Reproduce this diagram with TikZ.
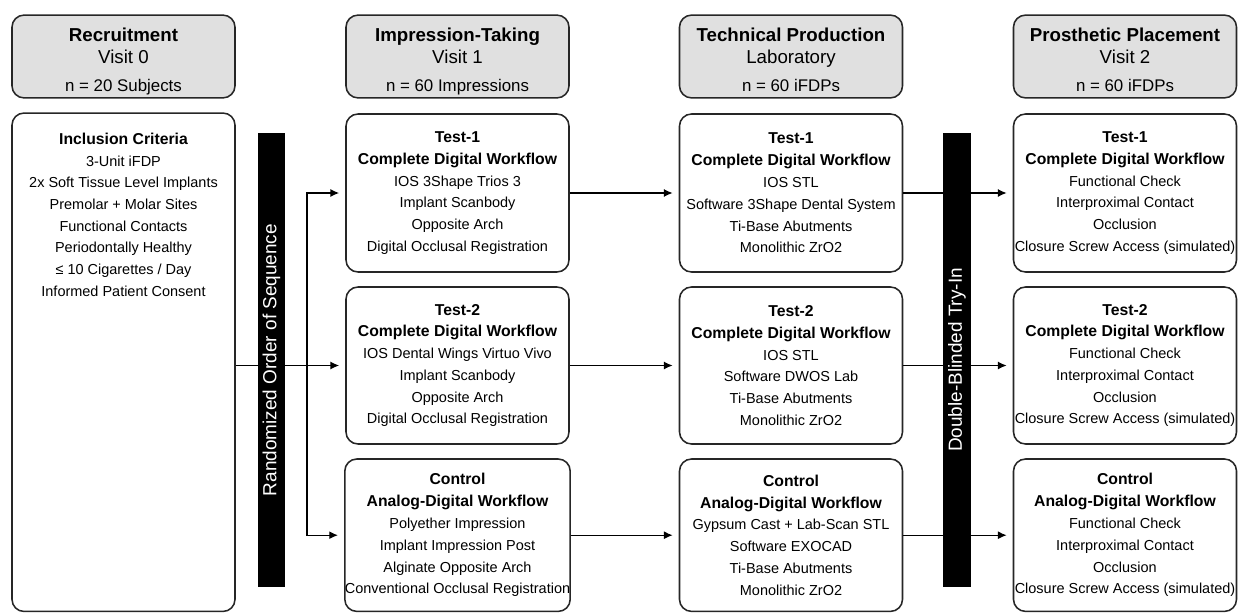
\documentclass[tikz,border=0pt]{standalone}
\usepackage{fontspec}
\setmainfont{Liberation Sans}
\usetikzlibrary{arrows.meta,positioning}

\newcommand{\grouptitle}[1]{{\fontsize{11.2}{15.5}\selectfont\bfseries #1}}
\newcommand{\phasetitle}[1]{{\fontsize{13.3}{15.5}\selectfont\bfseries\rule{0pt}{18.5pt}#1}}
\newcommand{\samplesize}[1]{{\fontsize{12}{15}\selectfont #1\strut}}

\begin{document}
\begin{tikzpicture}[>={Latex[length=2.2mm, width=2mm]},
	every node/.style={align=center, text=black},
	head/.style={draw=black!85, line width=1.1pt, fill=gray!24, rounded corners=0.3cm, minimum width=5.575cm, minimum height=2.07cm, inner sep=0pt, font=\fontsize{13.3}{15.5}\selectfont},
	stage/.style={draw=black!85, line width=1.1pt, fill=white, rounded corners=0.3cm, minimum width=5.575cm, inner sep=0pt, font=\fontsize{10.3}{15.5}\selectfont},
	bar/.style={fill=black, rotate=90, minimum width=11.35cm, minimum height=0.68cm, inner sep=0pt, text=white, font=\fontsize{13.5}{16}\selectfont},
	link/.style={->, line width=1pt, shorten >=1.5mm}]
	\useasboundingbox (0,0) rectangle (31,-15.325);

	% phase headers
	\node[head] (h0) at (3.0875, -1.4125) {\phasetitle{Recruitment}\\Visit 0\strut\\[4.4pt]\samplesize{n = 20 Subjects}};
	\node[head] (h1) at (11.4375, -1.4125) {\phasetitle{Impression-Taking}\\Visit 1\strut\\[4.4pt]\samplesize{n = 60 Impressions}};
	\node[head] (h2) at (19.775, -1.4125) {\phasetitle{Technical Production}\\Laboratory\strut\\[4.4pt]\samplesize{n = 60 iFDPs}};
	\node[head] (h3) at (28.125, -1.4125) {\phasetitle{Prosthetic Placement}\\Visit 2\strut\\[4.4pt]\samplesize{n = 60 iFDPs}};

	% recruitment
	\node[stage, minimum height=12.46cm] (inc) at (3.0875, -9.056) {};
	\node[below=0.4cm of inc.north, font=\fontsize{10.3}{15.4}\selectfont] (inctext) {\grouptitle{Inclusion Criteria}\\3-Unit iFDP\\2x Soft Tissue Level Implants\\Premolar + Molar Sites\\Functional Contacts\\Periodontally Healthy\\≤ 10 Cigarettes / Day\\Informed Patient Consent};

	% impression-taking
	\node[stage, minimum height=3.95cm] (m1) at (11.4375, -4.825) {\grouptitle{Test-1}\\\grouptitle{Complete Digital Workflow}\\IOS 3Shape Trios 3\\Implant Scanbody\\Opposite Arch\\Digital Occlusal Registration};
	\node[stage, minimum height=3.925cm] (m2) at (11.4375, -9.1375) {\grouptitle{Test-2}\\\grouptitle{Complete Digital Workflow}\\IOS Dental Wings Virtuo Vivo\\Implant Scanbody\\Opposite Arch\\Digital Occlusal Registration};
	\node[stage, minimum height=3.81cm] (m3) at (11.4375, -13.38) {\grouptitle{Control}\\\grouptitle{Analog-Digital Workflow}\\Polyether Impression\\Implant Impression Post\\Alginate Opposite Arch\\Conventional Occlusal Registration};

	% laboratory
	\node[stage, minimum height=3.95cm] (t1) at (19.775, -4.825) {\grouptitle{Test-1}\\\grouptitle{Complete Digital Workflow}\\IOS STL\\Software 3Shape Dental System\\Ti-Base Abutments\\Monolithic ZrO2};
	\node[stage, minimum height=3.925cm] (t2) at (19.775, -9.1375) {\grouptitle{Test-2}\\\grouptitle{Complete Digital Workflow}\\IOS STL\\Software DWOS Lab\\Ti-Base Abutments\\Monolithic ZrO2};
	\node[stage, minimum height=3.81cm] (t3) at (19.775, -13.38) {\grouptitle{Control}\\\grouptitle{Analog-Digital Workflow}\\Gypsum Cast + Lab-Scan STL\\Software EXOCAD\\Ti-Base Abutments\\Monolithic ZrO2};

	% placement
	\node[stage, minimum height=3.95cm] (p1) at (28.125, -4.825) {\grouptitle{Test-1}\\\grouptitle{Complete Digital Workflow}\\Functional Check\\Interproximal Contact\\Occlusion\\Closure Screw Access (simulated)};
	\node[stage, minimum height=3.925cm] (p2) at (28.125, -9.1375) {\grouptitle{Test-2}\\\grouptitle{Complete Digital Workflow}\\Functional Check\\Interproximal Contact\\Occlusion\\Closure Screw Access (simulated)};
	\node[stage, minimum height=3.81cm] (p3) at (28.125, -13.38) {\grouptitle{Control}\\\grouptitle{Analog-Digital Workflow}\\Functional Check\\Interproximal Contact\\Occlusion\\Closure Screw Access (simulated)};

	% connectors
	\coordinate (split) at (7.675, -9.1375);
	\draw[link] (inc.east |- m2.west) -- (m2.west);
	\draw[link] (split) |- (m1.west);
	\draw[link] (split) |- (m3.west);
	\draw[link] (m1.east) -- (t1.west);
	\draw[link] (m2.east) -- (t2.west);
	\draw[link] (m3.east) -- (t3.west);
	\draw[link] (t1.east) -- (p1.west);
	\draw[link] (t2.east) -- (p2.west);
	\draw[link] (t3.east) -- (p3.west);

	% black bars on top
	\node[bar] (rand) at (6.7875, -9.0) {Randomized Order of Sequence};
	\node[bar] (tryin) at (23.925, -9.0) {Double-Blinded Try-In};
\end{tikzpicture}
\end{document}
